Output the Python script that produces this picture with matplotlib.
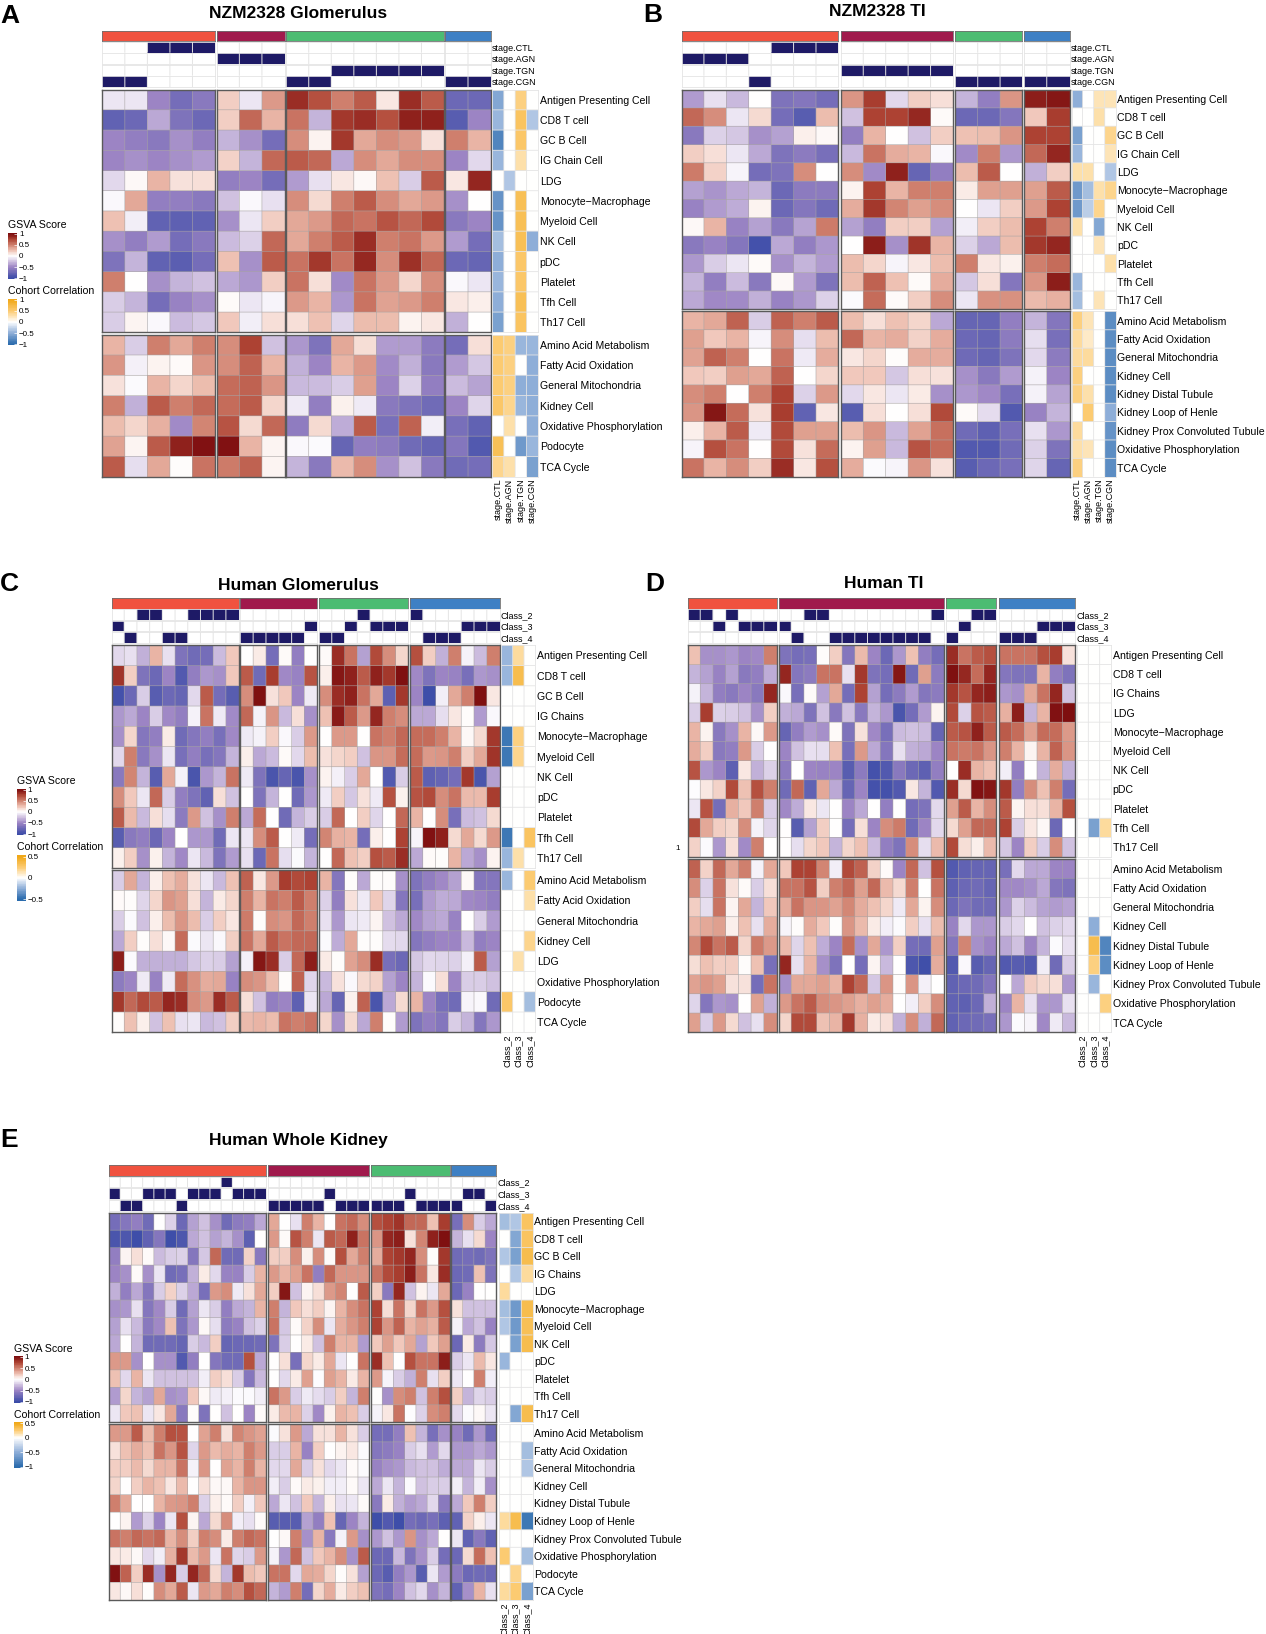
import numpy as np
import matplotlib
matplotlib.use("Agg")
import matplotlib.pyplot as plt
from matplotlib.colors import LinearSegmentedColormap, ListedColormap, TwoSlopeNorm

plt.rcParams['font.family'] = ['Liberation Sans', 'DejaVu Sans']
W, H = 1266, 1634

# ---------- row labels ----------
IMMUNE_A = ["Antigen Presenting Cell","CD8 T cell","GC B Cell","IG Chain Cell","LDG","Monocyte\u2212Macrophage","Myeloid Cell","NK Cell","pDC","Platelet","Tfh Cell","Th17 Cell"]
METAB_A = ["Amino Acid Metabolism","Fatty Acid Oxidation","General Mitochondria","Kidney Cell","Oxidative Phosphorylation","Podocyte","TCA Cycle"]
METAB_B = ["Amino Acid Metabolism","Fatty Acid Oxidation","General Mitochondria","Kidney Cell","Kidney Distal Tubule","Kidney Loop of Henle","Kidney Prox Convoluted Tubule","Oxidative Phosphorylation","TCA Cycle"]
IMMUNE_C = ["Antigen Presenting Cell","CD8 T cell","GC B Cell","IG Chains","Monocyte\u2212Macrophage","Myeloid Cell","NK Cell","pDC","Platelet","Tfh Cell","Th17 Cell"]
METAB_C = ["Amino Acid Metabolism","Fatty Acid Oxidation","General Mitochondria","Kidney Cell","LDG","Oxidative Phosphorylation","Podocyte","TCA Cycle"]
IMMUNE_D = ["Antigen Presenting Cell","CD8 T cell","IG Chains","LDG","Monocyte\u2212Macrophage","Myeloid Cell","NK Cell","pDC","Platelet","Tfh Cell","Th17 Cell"]
IMMUNE_E = ["Antigen Presenting Cell","CD8 T cell","GC B Cell","IG Chains","LDG","Monocyte\u2212Macrophage","Myeloid Cell","NK Cell","pDC","Platelet","Tfh Cell","Th17 Cell"]
METAB_E = ["Amino Acid Metabolism","Fatty Acid Oxidation","General Mitochondria","Kidney Cell","Kidney Distal Tubule","Kidney Loop of Henle","Kidney Prox Convoluted Tubule","Oxidative Phosphorylation","Podocyte","TCA Cycle"]
STAGES = ["stage.CTL","stage.AGN","stage.TGN","stage.CGN"]
CLASSES = ["Class_2","Class_3","Class_4"]

# ---------- panel A ----------
A_GROUPS = [5,3,7,2]
A_TRACKS = [[2,3,4],[5,6,7],[10,11,12,13,14],[0,1,8,9,15,16]]
A_VALUES = [
[-.1,-.1,-.5,-.7,-.6,.2,-.1,.4,.85,.7,.5,.65,.1,.85,.65,-.75,-.75],
[-.8,-.75,-.35,-.65,-.75,.2,.6,.3,.55,-.3,.8,.85,.7,.9,.9,-.85,-.5],
[-.5,-.55,-.6,-.45,-.55,-.3,-.45,-.7,.45,.05,.8,.35,.45,.4,.12,.5,.3],
[-.5,-.45,-.5,-.45,-.4,.18,-.3,.6,.65,.6,-.35,.45,.35,.45,.45,-.5,-.15],
[-.15,.03,.3,.12,.13,-.55,-.5,-.7,-.4,-.12,.1,.03,.25,-.2,.65,.1,.88],
[-.03,.35,-.55,-.55,-.6,-.25,-.03,-.12,.45,.15,.5,.65,.45,.35,.4,-.45,0],
[.25,-.07,-.8,-.82,-.8,-.45,-.1,.2,.35,.4,.6,.55,.68,.6,.72,-.6,-.5],
[-.45,-.55,-.4,-.7,-.6,-.27,-.18,.6,.35,.5,.65,.85,.5,.55,.4,-.4,-.7],
[-.65,-.3,-.8,-.83,-.7,.25,-.45,.65,.55,.8,.55,.87,.45,.83,.6,-.75,-.78],
[.5,0,-.45,-.3,-.25,-.35,-.42,.2,.55,.13,-.47,.55,.4,.17,.45,-.03,-.1],
[-.2,-.3,-.7,-.52,-.45,.02,-.1,-.04,.4,.3,-.42,.55,.37,.4,.5,.1,.07],
[-.2,.04,-.03,-.27,-.22,.22,-.07,.13,.13,.25,-.17,.27,.27,.05,.1,-.32,0],
[.3,-.2,.5,.35,.5,.45,.75,-.25,-.42,-.65,.35,.14,-.4,-.4,-.58,-.7,.13],
[.42,-.06,.05,.02,.42,.45,.62,.3,-.32,-.5,.3,.4,-.47,-.32,-.6,-.4,-.22],
[.12,-.02,.3,.17,.27,.58,.62,.42,-.28,-.27,-.2,.38,-.5,-.18,-.55,-.27,-.37],
[.5,-.32,.65,.5,.6,.58,.65,.17,-.08,-.55,.06,-.08,-.6,-.65,-.72,-.5,-.17],
[.27,.17,.32,-.47,.48,.68,.15,.6,-.57,.15,-.33,.65,-.68,.62,-.07,-.68,-.8],
[.37,.04,.65,.9,.97,.97,.3,.04,-.03,-.02,-.78,-.55,-.58,-.72,-.78,-.62,-.88],
[.65,-.13,.35,.01,.55,.52,.62,.04,-.3,-.6,.28,.45,-.45,-.25,-.6,-.72,-.7],
]
A_SIDE = [
[-.55,0,.45,0],[-.45,0,.6,-.35],[-.8,0,.55,0],[-.45,0,.3,0],[0,-.35,0,0],[-.7,0,.65,0],
[-.7,0,.65,0],[-.4,0,.65,-.5],[-.5,0,.55,0],[-.45,0,.55,0],[-.5,0,.65,0],[-.6,0,.6,0],
[.5,.45,-.45,-.45],[.5,.45,0,-.5],[.5,.45,-.5,-.5],[.55,.4,-.45,-.5],[0,.3,0,-.5],[.65,0,-.65,-.45],[.4,.3,0,-.6],
]

# ---------- panel B ----------
B_GROUPS = [7,5,3,2]
B_TRACKS = [[4,5,6],[0,1,2],[7,8,9,10,11],[3,12,13,14,15,16]]
B_VALUES = [
[-.4,-.12,-.28,0,-.65,-.62,-.7,.42,.78,-.15,.2,.13,-.3,-.55,.42,.92,.95],
[.6,.45,-.1,.15,-.7,-.85,.27,-.25,.75,.75,.87,.02,-.75,-.75,-.62,.22,.78],
[-.6,-.18,-.22,-.45,-.38,.07,.03,-.55,.3,0,-.25,.2,.25,.27,.42,.75,.75],
[.2,.13,-.1,-.35,-.65,-.58,-.68,-.28,.55,.33,.3,-.03,-.47,.5,-.42,.6,.88],
[.52,.18,-.04,-.7,-.65,.45,0,.45,-.47,.9,-.78,-.55,.27,.65,0,-.32,.2],
[-.38,-.43,-.35,-.3,-.75,-.58,-.58,.05,.75,.3,.5,.5,.08,.38,.38,.38,.65],
[-.52,-.4,-.33,.05,-.75,-.62,-.72,.33,.8,.48,.38,.45,0,-.1,.2,.4,.75],
[.03,.3,-.52,-.38,-.6,-.37,.52,-.38,-.55,.2,.2,-.38,-.07,.2,.27,.75,.5],
[-.6,-.52,-.62,-.95,-.35,-.55,-.42,0,.92,-.45,.82,.3,-.18,-.35,.27,.8,.88],
[-.42,-.2,-.1,.02,-.45,-.3,-.4,.27,.17,-.04,.1,.27,.5,.1,.06,.5,.58],
[-.3,-.55,-.27,-.6,.03,-.4,-.65,.27,.62,.25,.02,.33,-.22,.13,-.62,.42,.92],
[-.35,-.48,-.47,-.32,-.52,-.42,-.18,-.02,.58,.02,.2,.45,-.1,.43,.43,.28,.32],
[.3,.35,.62,-.2,.62,.5,.65,.27,.13,.25,.17,-.35,-.78,-.78,-.55,-.3,-.62],
[.38,.22,.3,-.04,.45,-.13,.27,.6,.3,.33,.18,.33,-.75,-.78,-.58,-.13,-.68],
[.37,.62,.5,0,.55,-.08,.33,.1,.17,.01,.33,.33,-.73,-.78,-.65,-.15,-.58],
[.22,.2,.38,.35,.62,0,.17,.22,.22,-.22,.13,.12,-.45,-.6,-.4,-.05,-.5],
[.45,.5,0,.5,.75,-.18,.4,-.15,.1,-.1,.08,-.45,-.42,-.48,-.68,-.05,-.37],
[.42,.95,.58,.12,.78,-.8,.1,-.85,.13,0,.13,.72,.02,-.14,-.88,-.52,-.3],
[.07,.3,.65,-.08,.72,.38,.38,.27,.42,-.28,.37,.57,-.72,-.82,-.68,-.12,-.42],
[-.04,.7,.55,0,.72,.12,.58,.05,.38,-.28,.68,.58,-.88,-.88,-.72,-.18,-.65],
[.55,.3,.45,.2,.85,.1,.7,.33,-.02,-.04,.42,.12,-.85,-.75,-.68,-.17,-.78],
]
B_SIDE = [
[-.5,0,.25,.25],[0,0,.3,0],[-.6,0,0,.4],[-.45,0,0,.25],[.3,.3,0,-.35],[-.65,-.4,.3,.4],
[-.65,-.3,.4,0],[.3,0,-.55,0],[0,0,.25,0],[0,0,0,.3],[-.45,0,0,0],[-.4,0,.25,0],
[.45,.25,0,-.75],[.35,.2,0,-.75],[.35,.35,0,-.75],[.45,0,0,-.75],[.45,.3,0,-.75],[0,.5,0,-.5],[.35,0,0,-.7],[.3,.25,0,-.75],[.45,0,0,-.75],
]

# ---------- panel C ----------
C_GROUPS = [10,6,7,7]
C_TRACKS = [[2,3,6,7,8,9,19,23],[0,15,18,20,21,22,27,28,29],[1,4,5,10,11,12,13,14,16,17,24,25,26]]
C_VALUES = [
[-.15,-.12,-.32,.3,-.12,-.65,-.72,-.7,-.27,.22,0,.08,-.7,.02,-.55,0,.02,.85,.55,-.38,.72,.45,.17,.7,.2,-.32,.5,-.05,-.27,.5],
[.82,.2,-.65,-.75,-.5,-.88,-.55,-.42,-.45,.22,.65,-.72,.78,-.48,-.52,.68,.07,.95,.9,.65,.9,.8,.98,-.48,-.65,-.5,-.52,-.68,-.42,-.45],
[-.95,-.75,-.2,-.85,-.75,-.78,-.15,.65,-.7,-.85,.45,.98,.12,.22,-.5,-.08,.45,.85,.9,.55,.35,-.82,.8,-.5,-.98,-.07,.35,.5,.98,.1],
[-.42,-.35,-.5,-.2,-.48,-.55,-.05,.55,-.08,-.47,.6,-.05,.42,-.28,.13,-.45,.25,.93,.65,.4,.88,.5,.45,-.35,-.35,-.13,.1,.01,-.4,-.03],
[-.45,.17,-.62,-.55,.08,-.72,-.62,-.55,-.68,-.48,-.08,-.05,.2,-.03,-.2,.4,0,.4,.4,0,.55,.5,.6,.58,.58,.5,.3,.03,.15,.8],
[-.15,.5,-.6,-.45,-.1,-.68,-.55,-.68,-.62,-.3,.07,-.35,-.27,.02,-.15,.27,.12,.17,.2,-.25,.42,.42,.58,.58,.4,.42,.5,.2,.35,.82],
[-.6,.48,-.3,-.85,.35,-.05,-.92,-.42,-.3,.55,-.08,-.65,-.92,-.78,-.92,-.45,.05,-.06,-.2,.35,0,-.88,-.2,.65,-.82,-.78,-.7,.8,-.92,-.38],
[.45,.22,-.1,.6,-.2,-.55,-.65,-.8,.13,-.25,0,-.65,-.3,0,-.72,-.42,-.08,.2,-.22,.12,-.08,.7,.06,.68,.72,.45,.55,.28,.28,.78],
[.65,.28,-.28,.13,-.13,-.58,.4,-.25,-.45,.5,-.35,.58,0,-.72,-.3,-.2,-.2,.6,0,.2,-.17,0,.6,.3,0,.45,-.68,-.27,-.25,.15],
[-.85,-.6,-.55,-.75,-.5,0,-.42,-.42,-.72,-.1,-.1,.45,.65,0,-.08,-.7,.48,.32,.3,-.7,.07,0,.75,-.04,.97,.9,.15,.35,.15,.4],
[.06,.2,-.45,.06,-.3,-.48,-.1,-.28,-.65,-.4,-.12,-.75,.55,-.13,-.02,-.3,0,.6,.25,.2,.7,.65,.85,-.35,.02,.01,.3,-.35,-.45,.05],
[-.2,.35,-.3,.07,.25,.33,.12,-.1,-.28,.25,.62,.1,.4,.78,.72,.75,.3,-.62,.01,-.35,.01,.01,-.45,-.65,-.55,-.48,-.38,.03,-.62,-.62],
[.02,.01,-.17,.17,.42,.38,.13,-.3,.08,.17,.5,.3,.55,.5,.65,.5,-.18,-.55,.12,-.08,.22,-.17,-.62,-.68,-.4,-.33,-.35,-.48,-.5,-.55],
[-.2,-.02,-.25,.07,.27,.42,.27,-.2,.2,.1,.52,.01,.45,.42,.6,.5,-.12,-.42,-.1,-.08,.04,-.25,-.35,-.48,-.38,-.35,-.52,0,-.2,-.4],
[-.35,.2,.01,.13,.03,.58,-.02,-.1,-.03,.2,.55,.35,.65,.55,.6,.6,-.02,-.33,.35,.01,.01,-.14,-.15,-.62,-.55,-.5,-.5,-.28,-.55,-.5],
[.92,-.02,-.32,-.32,-.32,-.32,-.22,-.18,-.2,-.38,-.06,.95,.85,-.2,.6,.92,.08,.01,.37,.45,.85,-.68,-.75,-.22,-.15,-.17,-.18,-.06,.65,-.38],
[-.58,-.5,-.08,-.52,-.08,.58,.43,.33,.35,-.52,.45,.42,.27,.01,.62,-.17,-.28,.12,-.03,.15,.18,-.38,-.5,-.3,-.02,.13,-.5,-.2,-.2,-.25],
[.8,.6,.72,.65,.88,.85,.45,.4,.85,.65,.13,-.25,-.55,-.5,-.82,-.1,-.35,-.78,.06,.62,-.92,-.35,.15,.3,-.5,-.68,-.72,-.04,-.03,-.72],
[.01,.25,.07,-.25,.25,-.12,-.1,-.28,-.25,.2,.28,.3,.27,.55,.5,.55,.17,-.45,.15,-.35,.5,.01,-.4,-.65,-.55,-.62,-.2,-.3,-.62,-.42],
]
C_SIDE = [
[-.45,.35,0],[-.45,.7,0],[0,0,0],[0,0,0],[-.9,.45,0],[-.9,.4,0],[0,0,0],[0,0,0],[0,0,0],[-.9,0,.6],[-.45,.3,0],
[-.45,0,.5],[0,0,.3],[0,0,0],[0,0,.4],[0,.3,0],[0,0,0],[.55,0,-.4],[0,0,0],
]

# ---------- panel D ----------
D_GROUPS = [7,13,4,6]
D_TRACKS = [[0,1,3,9,10,19,22,23],[2,4,5,6,7,21,27,28,29],[8,11,12,13,14,15,16,17,18,20,24,25,26]]
D_VALUES = [
[.25,-.45,-.45,-.42,-.5,-.48,.5,-.65,-.7,-.68,.01,.2,-.62,.28,-.5,-.75,-.42,.25,-.55,-.7,.85,.55,.65,.7,.55,.55,.55,.7,.78,.12],
[-.3,-.38,-.52,-.38,-.6,-.55,-.33,.88,-.62,-.58,.55,.55,-.12,.8,-.65,-.7,.95,-.72,.38,-.58,.98,.87,.58,.88,-.62,-.65,-.65,.3,-.55,-.65],
[-.05,-.3,-.55,-.6,-.5,-.6,.88,-.03,-.68,.02,-.38,.35,-.7,.75,-.38,-.7,-.58,-.4,-.62,-.58,.8,.68,.88,.92,-.42,-.45,.35,.55,.88,-.25],
[-.2,.78,-.18,-.2,-.25,-.45,.2,-.32,-.35,-.65,-.25,-.6,-.25,-.6,-.3,-.42,-.92,-.7,-.4,.05,.72,-.18,.68,.65,.32,.92,-.3,.3,.97,.99],
[.3,.05,-.6,-.45,.3,.03,.4,-.78,-.55,-.4,-.45,.02,-.65,.12,-.48,-.68,-.27,-.25,-.27,-.78,.65,.68,.9,.65,.65,.58,.38,.58,.58,.4],
[.33,.2,-.6,-.55,.4,-.2,0,-.5,-.25,-.12,-.13,.25,-.68,.4,-.35,-.62,-.12,-.32,-.35,-.5,.55,.52,.55,.42,.5,.3,.04,.3,.62,.42],
[.68,-.42,-.5,-.82,.1,-.32,-.18,-.58,0,-.5,-.52,-.5,-.85,-.58,-.95,-.88,-.6,-.75,-.82,-.55,0,.85,.3,.25,-.07,-.55,0,-.3,.33,-.32],
[-.01,.1,.18,.72,.25,.7,.5,-.72,.6,-.8,.35,-.35,-.78,-.5,-.95,-.95,-.88,.1,-.3,-.88,.85,.15,.97,.95,.8,-.55,.45,.25,.5,-.7],
[-.1,.68,-.7,.32,.22,.5,-.2,-.48,-.33,.1,-.1,0,-.5,-.35,0,-.55,0,-.7,-.65,-.15,.38,.65,.3,.45,.65,.04,.13,.13,.3,.7],
[.72,.35,.2,.17,.45,-.05,-.17,0,-.85,-.38,.2,0,-.7,.13,-.5,.45,.52,-.72,-.5,-.15,.15,.38,.6,.6,.75,-.2,.1,.03,-.75,0],
[.18,-.02,-.42,.13,-.47,.5,0,0,-.13,.17,.22,-.3,.17,.25,-.27,-.55,-.65,.45,-.13,.28,.72,.14,.07,.28,-.22,-.5,.2,-.2,.45,-.25],
[.62,.18,.6,.35,.5,-.05,.35,.22,.75,.75,.48,-.07,.72,.62,.18,.02,-.5,.6,-.25,.7,-.88,-.8,-.78,-.78,-.68,-.15,-.35,-.35,-.5,-.5],
[.45,-.18,.55,.12,.02,-.2,.13,.55,.55,.68,.2,.5,.6,.38,.6,.28,.15,.5,0,.55,-.82,-.75,-.72,-.78,-.48,-.48,-.45,-.35,-.62,-.65],
[.2,-.13,.55,.04,.35,-.3,.22,.33,.55,.42,.42,.37,.47,.33,.25,.17,-.08,.35,.05,.45,-.75,-.65,-.72,-.72,-.42,-.18,-.27,-.37,-.4,-.37],
[.3,.35,.38,.07,.25,-.12,.33,-.04,.01,.33,.22,.01,.42,.28,.08,-.07,-.02,.2,-.12,.27,-.52,-.15,-.42,-.42,-.2,-.15,0,-.25,-.18,-.15],
[.47,.72,.55,.65,.17,.52,.4,.28,-.17,.25,-.33,-.5,.58,-.45,.35,-.42,.2,-.7,-.72,.38,-.62,.48,-.45,-.5,-.35,-.25,-.5,-.3,-.02,-.12],
[.14,.25,.2,.2,.01,.25,-.68,.88,-.12,.3,-.45,-.65,0,-.7,.04,-.28,0,-.9,-.97,.33,-.88,-.03,-.85,-.78,-.88,-.85,-.88,-.07,-.72,-.2],
[.37,.42,.38,.12,.12,-.7,.55,-.45,.35,.35,.38,.3,.75,.6,-.22,.42,.01,.42,-.06,0,-.8,-.75,-.72,-.62,-.01,-.35,.2,.15,.13,-.42],
[-.17,-.62,-.42,-.45,0,.37,-.32,.4,.55,.65,.45,.42,.38,.32,.38,.33,0,-.07,.2,.45,-.8,-.82,-.75,-.32,-.5,.3,-.12,-.42,-.42,-.12],
[.38,-.2,.4,.15,-.25,-.12,.45,.17,.72,.72,.25,.3,.8,.32,.08,.13,-.32,.45,-.32,.6,-.8,-.75,-.72,-.68,-.42,-.02,-.04,-.48,-.08,-.28],
]
D_SIDE = [
[0,0,0],[0,0,0],[0,0,0],[0,0,0],[0,0,0],[0,0,0],[0,0,0],[0,0,0],[0,0,0],[0,-.6,.35],[0,0,0],
[0,0,0],[0,0,0],[0,0,0],[0,-.5,0],[0,.7,-.8],[0,.45,-.75],[0,-.45,0],[0,0,.45],[0,0,0],
]

# ---------- panel E ----------
E_GROUPS = [14,9,7,4]
E_TRACKS = [[10],[0,3,4,5,7,8,9,11,12,13,19,26,31,32],[1,2,6,14,15,16,17,18,20,21,22,23,24,25,27,28,29,30,33]]
E_VALUES = [
[-.7,-.62,-.55,-.72,0,-.18,-.75,-.38,-.25,-.45,-.72,-.58,-.55,-.35,.35,0,-.12,.5,.3,0,.55,.6,.45,.7,.75,.82,.6,.6,.25,.78,-.68,.45,-.2,-.35],
[-.92,-.9,-.98,-.8,-.62,-.98,-.9,-.35,-.25,-.38,-.3,-.45,-.82,0,.4,.02,.68,.5,-.1,.65,.6,.9,.55,.42,.88,.92,.12,.48,.9,.98,-.3,-.12,.15,-.5],
[-.55,.04,.13,.02,-.27,-.2,-.18,-.62,-.22,.6,-.72,-.72,.18,-.6,.2,.2,.45,.06,.45,.02,.7,.35,.5,.33,.75,.8,.88,.45,.01,.8,-.72,-.7,-.72,-.65],
[-.5,-.45,.02,-.45,-.1,-.72,-.68,-.32,.08,-.15,-.52,-.52,-.2,.3,.4,.3,.38,.55,-.55,.6,.42,.42,.42,.55,.72,.78,.92,.55,.1,.85,-.75,-.72,.25,-.65],
[-.32,-.55,-.35,-.62,-.2,.18,-.18,-.35,-.68,.4,.45,-.08,.12,.35,.2,.95,-.25,.04,.13,.4,.48,0,.65,.2,-.6,.88,-.25,.05,-.1,.35,-.75,-.52,0,0],
[-.45,-.42,-.12,-.62,-.48,-.2,-.72,-.38,-.1,-.2,-.55,-.35,-.3,.3,.5,-.3,.22,.13,.2,.04,.3,.45,.55,.75,.14,.55,.17,.55,.4,.7,.12,-.25,-.25,-.25],
[-.38,-.12,-.28,-.6,-.48,.25,-.65,-.42,.03,-.13,-.58,-.52,-.25,-.18,.55,-.22,.02,.18,.45,-.1,.33,.42,.5,.75,.42,.62,.3,.37,.32,.65,-.05,-.35,-.25,-.52],
[-.35,0,-.3,-.72,-.72,-.72,-.78,-.2,-.28,.2,-.78,-.75,-.75,-.72,-.65,-.2,0,.08,-.25,.5,.3,.3,-.4,.22,.38,.22,.35,-.38,.22,.38,-.75,.08,-.58,-.22],
[.4,.4,-.45,0,-.45,-.45,-.88,-.55,0,-.62,-.72,-.72,.7,-.35,0,.13,-.68,.17,.08,.35,-.1,0,.55,.85,.25,0,.7,.55,.55,.92,-.2,-.1,.28,.1],
[.25,-.15,.3,-.1,-.25,-.25,-.25,-.25,-.07,.2,.13,-.2,-.62,-.28,0,-.15,.08,.38,-.01,.38,.3,.08,.3,.4,-.04,-.2,-.32,.5,-.12,.2,-.1,0,.5,-.07],
[-.4,.17,-.3,-.38,.35,-.45,-.42,.22,.03,-.08,-.06,-.02,-.02,-.07,.55,.4,-.2,-.08,-.14,-.2,.2,-.3,.5,0,-.45,.45,.5,-.25,.5,.7,.2,-.3,-.17,-.2],
[-.1,.22,.25,-.1,.1,.35,-.6,.01,-.65,0,-.25,0,-.5,.02,.08,.28,.3,-.18,-.48,.06,.3,.25,-.2,-.05,.1,.55,-.01,-.18,.45,.5,-.15,-.02,.03,-.1],
[.4,.4,.65,.27,.5,.7,.68,0,.37,.5,.12,.48,.42,.37,-.02,.12,.4,-.35,.12,.12,.3,.12,-.2,-.7,-.7,-.55,.25,-.3,-.68,-.45,-.52,-.72,-.42,-.72],
[.12,.25,.33,.25,.55,.42,.68,-.17,.4,.28,.33,.3,.5,.4,-.2,-.2,.3,-.52,.2,0,.05,.1,-.02,-.62,-.58,-.52,-.2,-.12,-.4,-.15,-.42,-.42,-.35,-.42],
[.2,.2,.28,.15,.3,.3,.55,-.05,.42,0,.37,.3,.5,.3,-.15,-.15,.35,-.2,.12,-.15,-.1,.02,-.02,-.52,-.45,-.42,-.28,-.25,-.25,-.33,-.35,-.35,-.1,-.2],
[.17,0,.2,.3,.25,.1,.28,0,.13,.03,.03,.3,.42,.42,-.07,-.2,.02,.08,.06,-.07,-.07,.02,-.1,-.35,-.1,-.3,-.02,-.25,-.2,-.2,-.07,-.3,-.07,-.45],
[.5,.35,0,0,.3,.4,.42,.5,-.18,.07,.02,.2,-.06,.22,-.35,-.1,-.25,.22,-.3,.07,-.12,-.1,.02,-.6,.08,-.32,-.4,-.35,-.15,-.6,-.35,.22,.5,.2],
[0,.05,-.4,-.18,-.5,-.1,.7,.04,-.35,.15,.45,-.07,-.12,.02,-.85,-.85,-.85,-.38,-.55,.25,-.78,-.5,-.3,-.98,-.88,-.98,-.7,-.75,-.68,-.82,-.8,.18,.07,-.1],
[.55,.5,.6,.55,.6,.3,.45,.2,.5,.45,.08,.5,.6,.55,0,.03,.5,-.45,.3,-.6,-.05,.4,-.45,-.42,-.25,-.42,.42,-.45,-.35,0,-.1,-.8,-.6,-.8],
[.1,.08,.03,-.15,-.07,.32,.8,.28,.4,-.1,.55,-.17,-.2,.4,-.05,-.42,.6,-.25,.22,.3,.45,-.45,.65,-.75,-.75,-.28,-.65,-.45,-.2,-.7,-.75,.15,.58,.25],
[.97,.62,.2,.85,-.45,.88,-.2,.88,.6,.15,-.3,.8,.27,.22,.55,.55,-.15,.35,.33,.17,.01,.12,-.38,-.75,-.85,-.55,-.42,-.85,-.1,-.4,-.58,-.75,-.72,-.75],
[.1,.03,.13,.01,.45,.35,.65,-.1,.4,.35,.5,.45,.7,.6,-.3,-.4,.5,-.7,.17,.33,.08,.2,.25,-.65,-.7,-.5,-.25,-.15,-.45,-.3,-.8,-.45,.3,-.12],
]
E_SIDE = [
[-.4,-.35,.6],[0,-.55,.6],[-.35,-.6,.7],[0,-.35,.35],[.35,0,0],[-.4,-.65,.7],[-.35,-.65,.65],[0,-.6,.7],[-.45,0,0],[0,0,0],[0,0,0],[0,-.55,.7],
[0,0,0],[0,0,-.4],[0,0,-.35],[0,0,0],[0,0,0],[.35,.7,-.9],[0,0,0],[.5,0,-.4],[0,.4,0],[.35,.5,-.6],
]

GSVA_TICKS = [1,.5,0,-.5,-1]
COHORT_TICKS_A = [1,.5,0,-.5,-1]
COHORT_TICKS_C = [.5,0,-.5]
COHORT_TICKS_E = [.5,0,-.5,-1]

# ---------- styles ----------
GROUP_COLORS = ['#F0523F','#A01A4C','#4CBC72','#3E80C4']
NAVY = '#1E1A66'
CELL_EDGE = '#A8A4A4'
LIGHT_EDGE = '#E4E4E4'
FRAME = '#5A5A5A'
gsva_cmap = LinearSegmentedColormap.from_list('gsva', [(0,'#3B4CA8'),(.25,'#9C84C4'),(.375,'#CFC0E0'),(.5,'#FFFFFF'),(.625,'#EFC2B4'),(.75,'#D0806E'),(.875,'#AE4434'),(1,'#7C0C0E')])
cohort_cmap = LinearSegmentedColormap.from_list('cohort', [(0,'#2A6BAD'),(.25,'#8EAED8'),(.5,'#FFFFFF'),(.75,'#FCCB72'),(1,'#F0A818')])
track_cmap = ListedColormap(['white', NAVY])
FS_ROW, FS_TRACK, FS_TITLE, FS_LETTER = 7.6, 6.5, 12.5, 19

fig = plt.figure(figsize=(W/100, H/100), dpi=100)

def pax(x0, y0, x1, y1):
    return fig.add_axes([x0/W, 1-y1/H, (x1-x0)/W, (y1-y0)/H])

def clear(ax, frame=None, lw=1.0):
    ax.set_xticks([]); ax.set_yticks([])
    for s in ax.spines.values():
        if frame is None:
            s.set_visible(False)
        else:
            s.set_color(frame); s.set_linewidth(lw)

def grid(ax, nrows, ncols, color, lw, horizontal=True):
    ax.vlines(np.arange(1, ncols), 0, nrows, colors=color, linewidth=lw, snap=False)
    if horizontal:
        ax.hlines(np.arange(1, nrows), 0, ncols, colors=color, linewidth=lw, snap=False)

def panel(values, side, groups, gx, rows1, rows2, track_idx, track_names, side_names,
          bar_y, track_y, h1, h2, side_x, title, title_xy, letter, letter_xy):
    vals = np.array(values); sd = np.array(side)
    n1 = len(rows1)
    edges = np.cumsum([0]+groups)
    for g, (x0, x1) in enumerate(gx):
        ax = pax(x0, bar_y[0], x1, bar_y[1]); ax.set_facecolor(GROUP_COLORS[g]); clear(ax, '#707070', .6)
        cols = np.arange(edges[g], edges[g+1])
        for t, idx in enumerate(track_idx):
            ty = track_y[t]
            ax = pax(x0, ty[0], x1, ty[1])
            m = np.isin(cols, idx).astype(int)[None, :]
            ax.pcolormesh(m, cmap=track_cmap, vmin=0, vmax=1)
            grid(ax, 1, len(cols), LIGHT_EDGE, .7, horizontal=False)
            clear(ax, LIGHT_EDGE, .6)
            if g == len(gx)-1:
                ax.yaxis.tick_right(); ax.set_yticks([.5]); ax.set_yticklabels([track_names[t]], fontsize=FS_TRACK)
                ax.tick_params(axis='y', length=0, pad=1)
        for (r0, r1), (y0, y1) in zip([(0,n1),(n1,vals.shape[0])],[h1,h2]):
            ax = pax(x0, y0, x1, y1)
            ax.pcolormesh(vals[r0:r1, edges[g]:edges[g+1]], cmap=gsva_cmap, vmin=-1, vmax=1)
            grid(ax, r1-r0, len(cols), CELL_EDGE, .4)
            ax.invert_yaxis(); clear(ax, FRAME, 1.0)
    for k, ((r0, r1), (y0, y1), labels) in enumerate(zip([(0,n1),(n1,vals.shape[0])],[h1,h2],[rows1,rows2])):
        ax = pax(side_x[0], y0, side_x[1], y1)
        ax.pcolormesh(sd[r0:r1], cmap=cohort_cmap, vmin=-1, vmax=1)
        grid(ax, r1-r0, sd.shape[1], LIGHT_EDGE, .6)
        ax.invert_yaxis(); clear(ax, LIGHT_EDGE, .6)
        ax.yaxis.tick_right(); ax.set_yticks(np.arange(r1-r0)+.5); ax.set_yticklabels(labels, fontsize=FS_ROW)
        ax.tick_params(axis='y', length=0, pad=1.2)
        if k == 1:
            ax.set_xticks(np.arange(sd.shape[1])+.5); ax.set_xticklabels(side_names, fontsize=FS_TRACK, rotation=90)
            ax.tick_params(axis='x', length=0, pad=1.5)
    fig.text(title_xy[0]/W, 1-title_xy[1]/H, title, fontsize=FS_TITLE, fontweight='bold', ha='center', va='center')
    fig.text(letter_xy[0]/W, 1-letter_xy[1]/H, letter, fontsize=FS_LETTER, fontweight='bold', ha='left', va='center')

def legend(title_x, gy, gbar, cy, cbar, cticks, gticks=GSVA_TICKS):
    x0, x1 = title_x, title_x+9
    for name, ty, by, cmap, ticks in [('GSVA Score', gy, gbar, gsva_cmap, gticks), ('Cohort Correlation', cy, cbar, cohort_cmap, cticks)]:
        fig.text(x0/W, 1-ty/H, name, fontsize=7.6, ha='left', va='center')
        ax = pax(x0, by[0], x1, by[1])
        lo, hi = min(ticks), max(ticks)
        ys = np.linspace(lo-.04, hi+.04, 65)
        grad = ((ys[:-1]+ys[1:])/2)[:, None]
        ax.pcolormesh(np.array([0,1]), ys, grad, cmap=cmap, norm=TwoSlopeNorm(vcenter=0, vmin=lo, vmax=hi))
        ax.set_xticks([]); ax.set_ylim(ys[0], ys[-1])
        ax.yaxis.tick_right(); ax.set_yticks(ticks)
        ax.set_yticklabels([('\u2212' if t < 0 else '')+('%g' % abs(t)) for t in ticks], fontsize=5.8)
        ax.tick_params(axis='y', length=2, width=.5, color='white', direction='in', pad=1.5)
        for s in ax.spines.values():
            s.set_visible(False)

panel(A_VALUES, A_SIDE, A_GROUPS, [(102.3,215),(216.8,284.5),(286.2,444),(445.3,490.7)], IMMUNE_A, METAB_A, A_TRACKS, STAGES, STAGES,
      (31.1,40.9), [(41.9,52.7),(53.4,64.2),(64.9,75.7),(76.4,87.2)], (89.6,332.3), (334.7,476.7), (492.4,538),
      'NZM2328 Glomerulus', (298,13), 'A', (0,16))
panel(B_VALUES, B_SIDE, B_GROUPS, [(681.5,838.4),(840.8,953),(955.4,1022.4),(1024,1069.5)], IMMUNE_A, METAB_B, B_TRACKS, STAGES, STAGES,
      (31.1,40.9), [(41.9,52.7),(53.4,64.2),(64.9,75.7),(76.4,87.2)], (89.6,309.3), (311.4,476.7), (1071.5,1115.8),
      'NZM2328 TI', (877.5,11), 'B', (643,15))
panel(C_VALUES, C_SIDE, C_GROUPS, [(111.5,238.6),(240.3,317.3),(319,408.3),(410,499.6)], IMMUNE_C, METAB_C, C_TRACKS, CLASSES, CLASSES,
      (597.7,608.7), [(609.3,620),(620.7,631.3),(632,643.3)], (645.3,868), (870,1032.3), (501.3,535.4),
      'Human Glomerulus', (298,585), 'C', (0,584))
panel(D_VALUES, D_SIDE, D_GROUPS, [(687.5,776.5),(778.5,943.8),(945.8,996.5),(998.9,1075.1)], IMMUNE_D, METAB_B, D_TRACKS, CLASSES, CLASSES,
      (597.7,608.7), [(609.3,620),(620.7,631.3),(632,643.3)], (645.3,856.7), (859,1032.3), (1077,1111),
      'Human TI', (884,583), 'D', (645,584))
panel(E_VALUES, E_SIDE, E_GROUPS, [(109,266),(267.9,369.2),(371,449.6),(451.3,496.4)], IMMUNE_E, METAB_E, E_TRACKS, CLASSES, CLASSES,
      (1165,1175.7), [(1176.7,1187.3),(1188,1198.7),(1200,1210.7)], (1212.7,1422.3), (1424.3,1600), (498.7,532.6),
      'Human Whole Kidney', (298,1141), 'E', (0,1140))

legend(8, 225.5, (233,279), 291.4, (299,345), COHORT_TICKS_A)
legend(16.8, 781, (788.7,835), 847, (855,900.7), COHORT_TICKS_C)
legend(13.8, 1348.7, (1356,1402.7), 1414.7, (1422,1468), COHORT_TICKS_E)
fig.text(678/W, 1-848/H, '1', fontsize=5.8, ha='center', va='center')

fig.savefig('out.png', dpi=100)
